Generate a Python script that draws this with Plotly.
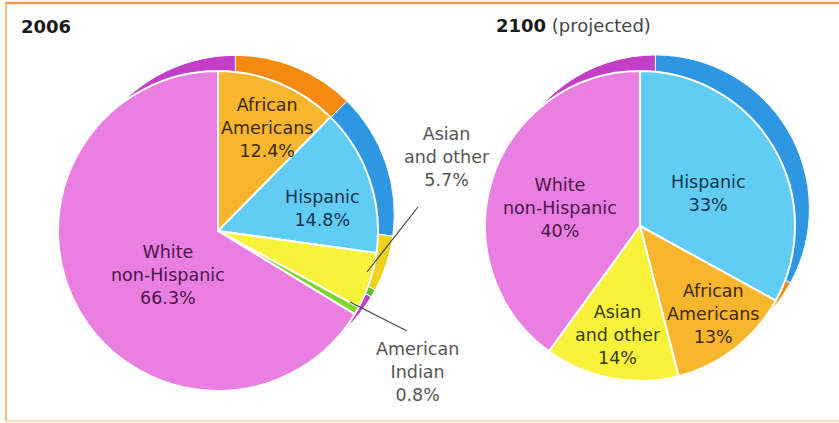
import plotly.graph_objects as go

W, H = 839, 423

# 2006 shares, clockwise from 12 o'clock
groups_2006 = ["African Americans", "Hispanic", "Asian and other", "American Indian", "White non-Hispanic"]
share_2006 = [12.4, 14.8, 5.7, 0.8, 66.3]
fill_2006 = ["#F8B62E", "#62CDF4", "#F8F23A", "#7ED530", "#EA7FE2"]
rim_2006 = ["#F58A10", "#2E97E3", "#EDD21E", "#5EBF22", "#C43FC8"]

# 2100 projected shares, clockwise from 12 o'clock
groups_2100 = ["Hispanic", "African Americans", "Asian and other", "White non-Hispanic"]
share_2100 = [33, 13, 14, 40]
fill_2100 = ["#62CDF4", "#F8B62E", "#F8F23A", "#EA7FE2"]
rim_2100 = ["#2E97E3", "#F58A10", "#EDD21E", "#C43FC8"]

FONT = "DejaVu Sans"


def dom(cx, cy, r):
    return dict(x=[(cx - r) / W, (cx + r) / W], y=[1 - (cy + r) / H, 1 - (cy - r) / H])


def px(x, y):
    return x / W, 1 - y / H


def pie(labels, values, colors, domain, lw):
    return go.Pie(
        labels=labels,
        values=values,
        sort=False,
        direction="clockwise",
        rotation=0,
        domain=domain,
        marker=dict(colors=colors, line=dict(color="white", width=lw)),
        textinfo="none",
        hoverinfo="label+value",
        showlegend=False,
    )


fig = go.Figure()
# back rims (give the pies their tilted edge)
fig.add_trace(pie(groups_2006, share_2006, rim_2006, dom(235.3, 214.3, 159), 1))
fig.add_trace(pie(groups_2100, share_2100, rim_2100, dom(655.4, 208.9, 154), 1))
# pie faces
fig.add_trace(pie(groups_2006, share_2006, fill_2006, dom(218, 231, 160), 2))
fig.add_trace(pie(groups_2100, share_2100, fill_2100, dom(640, 226, 155), 2))

labels = [
    # (text, x, y, color)
    ("African<br>Americans<br>12.4%", 267, 128, "#3d2a08"),
    ("Hispanic<br>14.8%", 322, 209, "#0b3350"),
    ("White<br>non-Hispanic<br>66.3%", 168, 275, "#4a1548"),
    ("Asian<br>and other<br>5.7%", 447, 157, "#555555"),
    ("American<br>Indian<br>0.8%", 417, 372, "#555555"),
    ("White<br>non-Hispanic<br>40%", 560, 208, "#4a1548"),
    ("Hispanic<br>33%", 708, 193, "#0b3350"),
    ("African<br>Americans<br>13%", 713, 314, "#3d2a08"),
    ("Asian<br>and other<br>14%", 618, 335, "#3a3a10"),
]
annotations = []
for text, x, y, c in labels:
    ax, ay = px(x, y)
    annotations.append(dict(
        text=text, x=ax, y=ay, xref="paper", yref="paper", showarrow=False,
        xanchor="center", yanchor="middle", align="center",
        font=dict(family=FONT, size=17.5, color=c),
    ))

tx, ty = px(19, 27)
annotations.append(dict(text="<b>2006</b>", x=tx, y=ty, xref="paper", yref="paper",
                        showarrow=False, xanchor="left", yanchor="middle",
                        font=dict(family=FONT, size=18, color="#1a1a1a")))
tx, ty = px(494, 26)
annotations.append(dict(text="<b>2100</b> <span style='color:#444'>(projected)</span>",
                        x=tx, y=ty, xref="paper", yref="paper", showarrow=False,
                        xanchor="left", yanchor="middle",
                        font=dict(family=FONT, size=18, color="#1a1a1a")))

shapes = []
# leader lines
for (x0, y0, x1, y1) in [(418, 207, 367, 272), (350, 302, 407, 331)]:
    a0, b0 = px(x0, y0)
    a1, b1 = px(x1, y1)
    shapes.append(dict(type="line", xref="paper", yref="paper", x0=a0, y0=b0, x1=a1, y1=b1,
                       line=dict(color="#444444", width=1.2)))
# frame
for (x0, y0, x1, y1, c, w) in [
    (5, 3, 839, 3, "#F29A4E", 2.5),
    (6, 3, 6, 421, "#EAC27A", 2),
    (6, 421, 839, 421, "#F7D2B0", 1.5),
]:
    a0, b0 = px(x0, y0)
    a1, b1 = px(x1, y1)
    shapes.append(dict(type="line", xref="paper", yref="paper", x0=a0, y0=b0, x1=a1, y1=b1,
                       line=dict(color=c, width=w)))

fig.update_layout(
    width=W,
    height=H,
    margin=dict(l=0, r=0, t=0, b=0),
    paper_bgcolor="white",
    plot_bgcolor="white",
    annotations=annotations,
    shapes=shapes,
)
fig.write_html(
    "out.html",
    config={"displayModeBar": False},
    post_script="document.body.style.margin='0';document.body.style.overflow='hidden';",
)
